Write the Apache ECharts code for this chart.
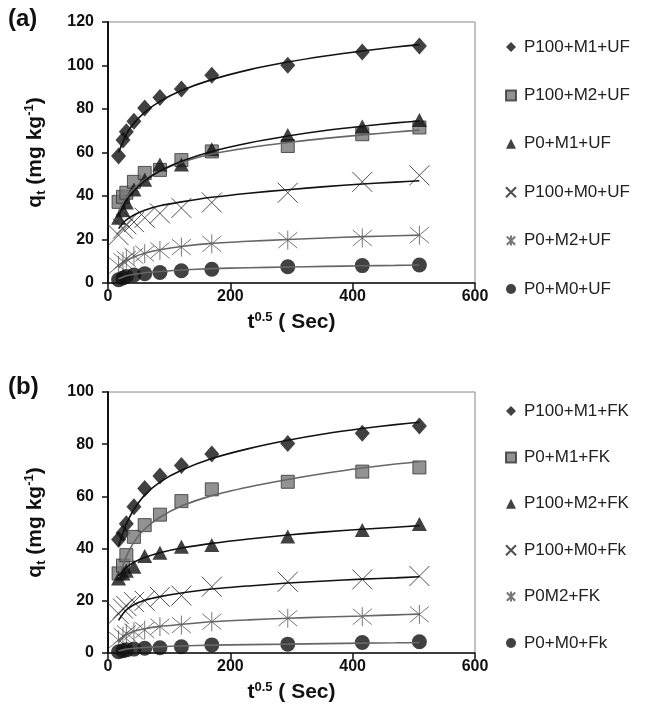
<!DOCTYPE html>
<html><head><meta charset="utf-8">
<script src="https://cdn.jsdelivr.net/npm/echarts@6/dist/echarts.min.js"></script>
<style>html,body{margin:0;padding:0;background:#fff}#c{width:646px;height:728px}</style>
</head><body><div id="c"></div>
<script>
// sqrt(time) in s^0.5
const xVals = [17.3, 24.5, 30, 42.4, 60, 84.9, 120, 169.7, 293.9, 415.7, 509.1];
// positions at which the fitted curves were read
const fitX = [17.3, 24.5, 30, 42.4, 60, 84.9, 120, 169.7, 230, 293.9, 355, 415.7, 470, 509.1];
const xTicks = [0, 200, 400, 600];
const yTicksA = [0, 20, 40, 60, 80, 100, 120];
const yTicksB = [0, 20, 40, 60, 80, 100];

// Panel (a) names
const namesA = ['P100+M1+UF', 'P100+M2+UF', 'P0+M1+UF', 'P100+M0+UF', 'P0+M2+UF', 'P0+M0+UF'];
// Panel (a) observed
const a_P100M1 = [58.4, 65.7, 69.5, 74.4, 80.5, 85.3, 89.2, 95.5, 100.1, 106.2, 109];
const a_P100M2 = [37.3, 39.6, 41.5, 46.5, 50.6, 52, 56.5, 60.5, 63, 68.4, 71.5];
const a_P0M1   = [30, 33.5, 37, 43, 47.5, 54.5, 54.5, 61.5, 68, 72, 75];
const a_P100M0 = [22, 25, 27, 28, 30, 32, 34.5, 37, 41.5, 46.5, 49.5];
const a_P0M2   = [8, 10, 11, 12.5, 13.5, 15, 16.5, 18, 19.7, 20.7, 22];
const a_P0M0   = [1.5, 2.3, 3, 3.7, 4.3, 4.8, 5.6, 6.3, 7.5, 8, 8.3];
// Panel (a) fitted curves (at fitX)
const aFit_P100M1 = [60, 65, 68.5, 73.5, 78.5, 83.5, 88.5, 93.5, 98, 101.6, 104.4, 106.7, 108.5, 109.6];
const aFit_P100M2 = [33, 37, 39.5, 43.5, 47.5, 51.5, 55.5, 59.3, 62.2, 64.6, 66.5, 68.1, 69.4, 70.3];
const aFit_P0M1   = [31, 35, 37.8, 42.3, 47, 51.5, 56, 60.5, 64.4, 67.6, 70.1, 72.1, 73.6, 74.5];
const aFit_P100M0 = [25, 27.5, 29, 31.3, 33.5, 35.5, 37.3, 39.4, 41.3, 42.9, 44.3, 45.5, 46.4, 47];
const aFit_P0M2   = [7, 9, 10.3, 12, 13.7, 15.3, 16.8, 18.2, 19.2, 20, 20.7, 21.3, 21.7, 22];
const aFit_P0M0   = [2, 2.8, 3.3, 4, 4.7, 5.3, 6, 6.6, 7, 7.35, 7.65, 7.9, 8.1, 8.3];

// Panel (b) names
const namesB = ['P100+M1+FK', 'P0+M1+FK', 'P100+M2+FK', 'P100+M0+Fk', 'P0M2+FK', 'P0+M0+Fk'];
const b_P100M1 = [43.5, 46, 49.5, 56, 63, 67.8, 71.8, 76.2, 80.3, 84.2, 87];
const b_P0M1   = [30.5, 33.5, 37.5, 44.5, 49, 53, 58.2, 62.7, 65.6, 69.5, 71.1];
const b_P100M2 = [28.5, 30.5, 31.5, 33, 37.2, 38.4, 40.7, 41.4, 44.6, 47.1, 49.4];
const b_P100M0 = [15, 17, 18, 19.5, 20, 21.5, 22, 25.4, 27.3, 28.2, 29.5];
const b_P0M2   = [5, 6.5, 7.5, 8.2, 8.8, 10.1, 10.7, 12, 13.3, 13.9, 14.8];
const b_P0M0   = [0.5, 0.9, 1.2, 1.5, 1.8, 2, 2.4, 3.1, 3.4, 4, 4.3];
const bFit_P100M1 = [41, 46, 49.5, 55, 60.5, 65.5, 70, 74.5, 78.3, 81.5, 84, 86, 87.5, 88.4];
const bFit_P0M1   = [29, 33.5, 37, 42.5, 47.5, 52, 56.3, 60.3, 63.6, 66.5, 68.9, 70.9, 72.4, 73.3];
const bFit_P100M2 = [29.5, 31.5, 32.8, 34.8, 36.6, 38.4, 40.2, 42, 43.7, 45.2, 46.4, 47.4, 48.2, 48.8];
const bFit_P100M0 = [12.5, 15, 16.5, 18.5, 20.2, 21.6, 23, 24.5, 25.7, 26.8, 27.6, 28.3, 28.8, 29.2];
const bFit_P0M2   = [4, 6, 7, 8.3, 9.3, 10.2, 11, 12, 12.7, 13.3, 13.8, 14.2, 14.6, 14.9];
const bFit_P0M0   = [0.8, 1.2, 1.5, 1.8, 2.1, 2.4, 2.7, 3, 3.2, 3.4, 3.6, 3.8, 3.9, 4.0];

const FONT = 'Liberation Sans, Arial, sans-serif';
const CROSS = 'path://M0,0L10,10M10,0L0,10';
const STAR = 'path://M0,0L10,10M10,0L0,10M5,-1L5,11';

const sty = {
  diamond: {symbol: 'diamond', symbolSize: [15, 17], itemStyle: {color: '#111'}},
  square: {symbol: 'rect', symbolSize: 13, itemStyle: {color: '#777', borderColor: '#333', borderWidth: 1}},
  triangle: {symbol: 'triangle', symbolSize: [15, 14], itemStyle: {color: '#111'}},
  cross: {symbol: CROSS, symbolSize: 20, itemStyle: {color: 'rgba(0,0,0,0)', borderColor: '#222', borderWidth: 1}},
  star: {symbol: STAR, symbolSize: 19, itemStyle: {color: 'rgba(0,0,0,0)', borderColor: '#555', borderWidth: 1}},
  circle: {symbol: 'circle', symbolSize: 15, itemStyle: {color: '#111'}}
};

function pairs(xs, v) { return xs.map((x, i) => [x, v[i]]); }
function scatter(name, vals, s, gi) {
  return Object.assign({type: 'scatter', name: name, data: pairs(xVals, vals), xAxisIndex: gi, yAxisIndex: gi, z: 2}, JSON.parse(JSON.stringify(s)));
}
function fit(vals, color, gi) {
  return {type: 'line', data: pairs(fitX, vals), xAxisIndex: gi, yAxisIndex: gi, showSymbol: false, symbol: 'none',
    smooth: 0.25, silent: true, z: 3,
    lineStyle: {color: color, width: 1.6}};
}

const series = [
  scatter(namesA[0], a_P100M1, sty.diamond, 0),
  scatter(namesA[1], a_P100M2, sty.square, 0),
  scatter(namesA[2], a_P0M1, sty.triangle, 0),
  scatter(namesA[3], a_P100M0, sty.cross, 0),
  scatter(namesA[4], a_P0M2, sty.star, 0),
  scatter(namesA[5], a_P0M0, sty.circle, 0),
  fit(aFit_P100M1, '#111', 0), fit(aFit_P100M2, '#666', 0), fit(aFit_P0M1, '#111', 0),
  fit(aFit_P100M0, '#111', 0), fit(aFit_P0M2, '#666', 0), fit(aFit_P0M0, '#666', 0),
  scatter(namesB[0], b_P100M1, sty.diamond, 1),
  scatter(namesB[1], b_P0M1, sty.square, 1),
  scatter(namesB[2], b_P100M2, sty.triangle, 1),
  scatter(namesB[3], b_P100M0, sty.cross, 1),
  scatter(namesB[4], b_P0M2, sty.star, 1),
  scatter(namesB[5], b_P0M0, sty.circle, 1),
  fit(bFit_P100M1, '#111', 1), fit(bFit_P0M1, '#666', 1), fit(bFit_P100M2, '#111', 1),
  fit(bFit_P100M0, '#111', 1), fit(bFit_P0M2, '#666', 1), fit(bFit_P0M0, '#666', 1)
];

function xAxis(gi) {
  return {type: 'value', gridIndex: gi, min: xTicks[0], max: xTicks[xTicks.length - 1], interval: xTicks[1] - xTicks[0],
    axisLine: {show: true, lineStyle: {color: '#111', width: 1.5}},
    axisTick: {show: true, length: 6, lineStyle: {color: '#111', width: 1.5}},
    splitLine: {show: false},
    axisLabel: {color: '#111', fontFamily: FONT, fontWeight: 'bold', fontSize: 16, margin: 6},
    name: '{b|t}{s|0.5}{b| ( Sec)}', nameLocation: 'middle', nameGap: 28,
    nameTextStyle: {rich: {
      b: {fontFamily: FONT, fontWeight: 'bold', fontSize: 21, color: '#111', verticalAlign: 'bottom'},
      s: {fontFamily: FONT, fontWeight: 'bold', fontSize: 13, color: '#111', verticalAlign: 'top', padding: [0, 0, 9, 0]}
    }}
  };
}
function yAxis(gi, ticks) {
  return {type: 'value', gridIndex: gi, min: ticks[0], max: ticks[ticks.length - 1], interval: ticks[1] - ticks[0],
    axisLine: {show: true, lineStyle: {color: '#111', width: 2}},
    axisTick: {show: true, length: 6, lineStyle: {color: '#111', width: 1.5}},
    splitLine: {show: false},
    axisLabel: {color: '#111', fontFamily: FONT, fontWeight: 'bold', fontSize: 16, margin: 14},
    name: '{b|q}{sub|t}{b| (mg kg}{sup|-1}{b|)}', nameLocation: 'middle', nameRotate: 90, nameGap: 60,
    nameTextStyle: {rich: {
      b: {fontFamily: FONT, fontWeight: 'bold', fontSize: 21, color: '#111', verticalAlign: 'middle'},
      sub: {fontFamily: FONT, fontWeight: 'bold', fontSize: 13, color: '#111', verticalAlign: 'bottom', padding: [12, 0, 0, 0]},
      sup: {fontFamily: FONT, fontWeight: 'bold', fontSize: 13, color: '#111', verticalAlign: 'top', padding: [0, 0, 12, 0]}
    }}
  };
}
function legend(names, top, gap) {
  return {orient: 'vertical', left: 500, top: top, itemWidth: 10, itemHeight: 10, itemGap: gap,
    data: names, selectedMode: false,
    textStyle: {fontFamily: FONT, fontSize: 17, color: '#222', lineHeight: 18, padding: [0, 0, 0, 3]}};
}

const chart = echarts.init(document.getElementById('c'), null, {renderer: 'canvas'});
chart.setOption({
  animation: false,
  backgroundColor: '#fff',
  grid: [
    {left: 108, top: 22, width: 367, height: 261, show: true, borderColor: '#888', borderWidth: 1, backgroundColor: 'transparent'},
    {left: 108, top: 392, width: 367, height: 261, show: true, borderColor: '#888', borderWidth: 1, backgroundColor: 'transparent'}
  ],
  xAxis: [xAxis(0), xAxis(1)],
  yAxis: [yAxis(0, yTicksA), yAxis(1, yTicksB)],
  legend: [legend(namesA, 33, 30.4), legend(namesB, 397, 28.4)],
  graphic: [
    {type: 'text', left: 8, top: 7, style: {text: '(a)', fontFamily: FONT, fontWeight: 'bold', fontSize: 24, fill: '#111'}},
    {type: 'text', left: 8, top: 375, style: {text: '(b)', fontFamily: FONT, fontWeight: 'bold', fontSize: 24, fill: '#111'}}
  ],
  series: series
});
</script>
</body></html>
